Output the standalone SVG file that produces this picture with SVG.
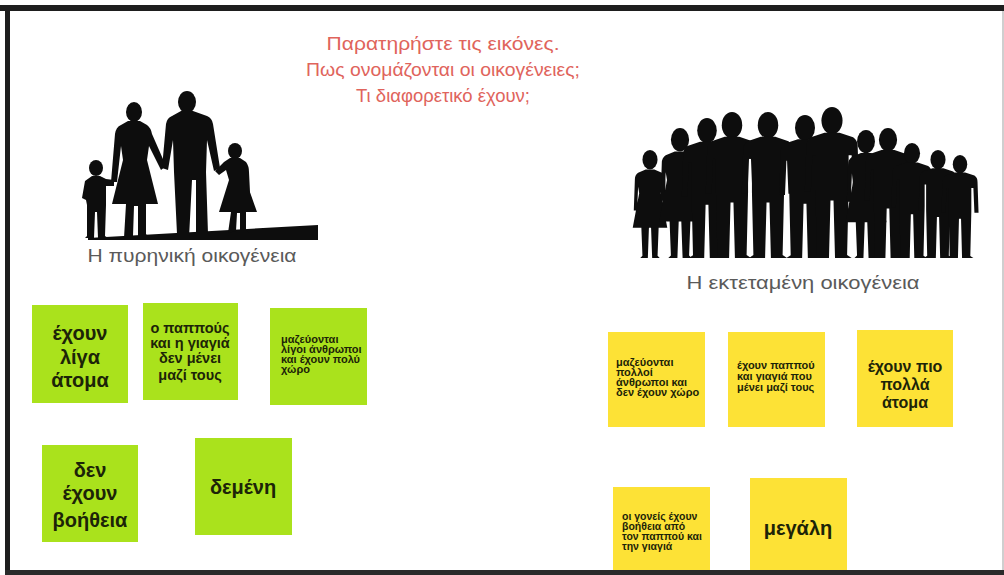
<svg xmlns="http://www.w3.org/2000/svg" width="1004" height="575" viewBox="0 0 1004 575">
<style>
.title{font-family:"Liberation Sans","DejaVu Sans",sans-serif;font-size:19px;fill:#e0645c;text-anchor:middle}
.lbl{font-family:"Liberation Sans","DejaVu Sans",sans-serif;font-size:19px;fill:#5a5a5a;text-anchor:middle}
.g{fill:#aae21c}
.y{fill:#fde236}
.big{font-family:"Liberation Sans","DejaVu Sans",sans-serif;font-size:20px;font-weight:bold;fill:#1c2408;text-anchor:middle}
.mid{font-family:"Liberation Sans","DejaVu Sans",sans-serif;font-size:14.5px;font-weight:bold;fill:#1c2408;text-anchor:middle}
.sm{font-family:"Liberation Sans","DejaVu Sans",sans-serif;font-size:11px;font-weight:bold;fill:#1c2408}
.sil{fill:#0d0d0d}
</style>
<defs>
<g id="man">
<ellipse cx="0" cy="-91" rx="7" ry="9"/>
<path d="M -5,-83 L 5,-83 L 14,-80 Q 17,-78 17,-74 L 18,-44 L 14,-44 L 13,-68 L 11,-68 L 11,-45 L 10,-2 L 13,0 L 2,0 L 1,-38 L -1,-38 L -2,0 L -13,0 L -10,-2 L -11,-45 L -11,-68 L -13,-68 L -14,-44 L -18,-44 L -17,-74 Q -17,-78 -14,-80 Z"/>
</g>
<g id="woman">
<ellipse cx="0" cy="-91" rx="7" ry="9"/>
<path d="M -4,-82 L 4,-82 L 11,-79 Q 14,-77 14,-73 L 15,-44 L 12,-44 L 11,-66 L 10,-60 L 16,-28 L 8,-28 L 7,-2 L 9,0 L 2,0 L 1,-28 L -1,-28 L -2,0 L -9,0 L -7,-2 L -8,-28 L -16,-28 L -10,-60 L -11,-66 L -12,-44 L -15,-44 L -14,-73 Q -14,-77 -11,-79 Z"/>
</g>
</defs>
<rect x="0" y="0" width="1004" height="575" fill="#ffffff"/>
<g id="frame">
<rect x="0" y="5" width="1004" height="6" fill="#1e1e1e"/>
<rect x="5" y="5" width="5" height="570" fill="#1e1e1e"/>
<rect x="5" y="570" width="999" height="5" fill="#2a2a2a"/>
<rect x="1002" y="11" width="2" height="559" fill="#cfcfcf"/>
</g>
<g id="title">
<text class="title" x="443" y="50" textLength="233" lengthAdjust="spacingAndGlyphs">Παρατηρήστε τις εικόνες.</text>
<text class="title" x="443" y="76" textLength="274" lengthAdjust="spacingAndGlyphs">Πως ονομάζονται οι οικογένειες;</text>
<text class="title" x="443" y="102" textLength="174" lengthAdjust="spacingAndGlyphs">Τι διαφορετικό έχουν;</text>
</g>
<g id="nuclear-family" class="sil">
<polygon points="88,238 318,225 318,240 88,240"/>
<ellipse cx="96" cy="168" rx="7" ry="8"/>
<path d="M 92,176 L 100,176 L 106,179 L 114,180 L 114,186 L 106,186 L 106,205 L 105,236 L 108,238 L 98,238 L 97,212 L 95,212 L 94,238 L 85,238 L 87,236 L 87,205 L 86,200 L 82,198 L 85,181 Z"/>
<ellipse cx="134" cy="112" rx="8" ry="10"/>
<path d="M 128,121 L 140,121 L 147,125 Q 151,128 152,134 L 166,166 L 161,170 L 149,146 L 147,160 L 158,204 L 146,204 L 146,234 L 149,238 L 138,238 L 138,206 L 134,206 L 133,236 L 124,238 L 126,204 L 112,204 L 123,160 L 121,146 L 117,182 L 111,182 L 115,134 Q 116,127 121,125 Z"/>
<ellipse cx="187" cy="102" rx="9" ry="11"/>
<path d="M 181,111 L 193,111 L 207,116 Q 212,118 213,124 L 220,168 L 214,171 L 207,140 L 206,172 L 208,234 L 212,238 L 196,238 L 196,180 L 192,180 L 189,238 L 174,238 L 177,234 L 174,172 L 173,140 L 168,170 L 162,168 L 166,124 Q 167,118 172,116 Z"/>
<ellipse cx="235" cy="151" rx="7" ry="8"/>
<path d="M 230,158 L 240,158 L 246,162 Q 249,166 249,172 L 250,192 L 246,192 L 245,178 L 257,212 L 246,212 L 246,230 L 249,233 L 240,233 L 240,213 L 237,213 L 236,231 L 228,233 L 231,212 L 219,212 L 229,180 L 226,170 L 219,175 L 215,171 L 224,162 Z"/>
</g>
<text id="nuclear-label" class="lbl" x="192" y="262" textLength="209" lengthAdjust="spacingAndGlyphs">Η πυρηνική οικογένεια</text>
<g id="extended-family" class="sil">
<use href="#woman" transform="translate(650,258) scale(1.08)"/>
<use href="#woman" transform="translate(680,258) scale(1.3)"/>
<use href="#man" transform="translate(707,258) scale(1.4)"/>
<use href="#man" transform="translate(732,258) scale(1.46)"/>
<use href="#man" transform="translate(768,258) scale(1.46)"/>
<use href="#man" transform="translate(805,258) scale(1.43)"/>
<use href="#man" transform="translate(832,258) scale(1.51)"/>
<use href="#woman" transform="translate(866,258) scale(1.28)"/>
<use href="#man" transform="translate(888,258) scale(1.3)"/>
<use href="#man" transform="translate(912,258) scale(1.15)"/>
<use href="#man" transform="translate(938,258) scale(1.08)"/>
<use href="#man" transform="translate(960,258) scale(1.03)"/>
</g>
<text id="extended-label" class="lbl" x="803" y="289" textLength="233" lengthAdjust="spacingAndGlyphs">Η εκτεταμένη οικογένεια</text>

<g id="g1"><rect class="g" x="32" y="305" width="96" height="98"/>
<text class="big"><tspan x="80" y="340">έχουν</tspan><tspan x="80" y="364">λίγα</tspan><tspan x="80" y="387">άτομα</tspan></text></g>
<g id="g2"><rect class="g" x="143" y="303" width="95" height="97"/>
<text class="mid"><tspan x="190" y="333">ο παππούς</tspan><tspan x="190" y="348">και η γιαγιά</tspan><tspan x="190" y="363">δεν μένει</tspan><tspan x="190" y="380">μαζί τους</tspan></text></g>
<g id="g3"><rect class="g" x="270" y="308" width="97" height="97"/>
<text class="sm"><tspan x="281" y="343">μαζεύονται</tspan><tspan x="281" y="353">λίγοι άνθρωποι</tspan><tspan x="281" y="363">και έχουν πολύ</tspan><tspan x="281" y="373">χώρο</tspan></text></g>
<g id="g4"><rect class="g" x="42" y="445" width="96" height="97"/>
<text class="big"><tspan x="90" y="477">δεν</tspan><tspan x="90" y="500">έχουν</tspan><tspan x="90" y="527">βοήθεια</tspan></text></g>
<g id="g5"><rect class="g" x="195" y="438" width="97" height="97"/>
<text class="big"><tspan x="243" y="494">δεμένη</tspan></text></g>

<g id="y1"><rect class="y" x="608" y="332" width="97" height="95"/>
<text class="sm"><tspan x="616" y="366">μαζεύονται</tspan><tspan x="616" y="376">πολλοί</tspan><tspan x="616" y="386">άνθρωποι και</tspan><tspan x="616" y="396">δεν έχουν χώρο</tspan></text></g>
<g id="y2"><rect class="y" x="728" y="332" width="97" height="95"/>
<text class="sm"><tspan x="737" y="369">έχουν παππού</tspan><tspan x="737" y="380">και γιαγιά που</tspan><tspan x="737" y="391">μένει μαζί τους</tspan></text></g>
<g id="y3"><rect class="y" x="857" y="330" width="96" height="97"/>
<text class="big" style="font-size:16px"><tspan x="905" y="372">έχουν πιο</tspan><tspan x="905" y="390">πολλά</tspan><tspan x="905" y="408">άτομα</tspan></text></g>
<g id="y4"><rect class="y" x="613" y="487" width="97" height="83"/>
<text class="sm" style="font-size:10.5px"><tspan x="622" y="520">οι γονείς έχουν</tspan><tspan x="622" y="530">βοήθεια από</tspan><tspan x="622" y="540">τον παππού και</tspan><tspan x="622" y="550">την γιαγιά</tspan></text></g>
<g id="y5"><rect class="y" x="750" y="478" width="97" height="92"/>
<text class="big"><tspan x="798" y="535">μεγάλη</tspan></text></g>
</svg>
